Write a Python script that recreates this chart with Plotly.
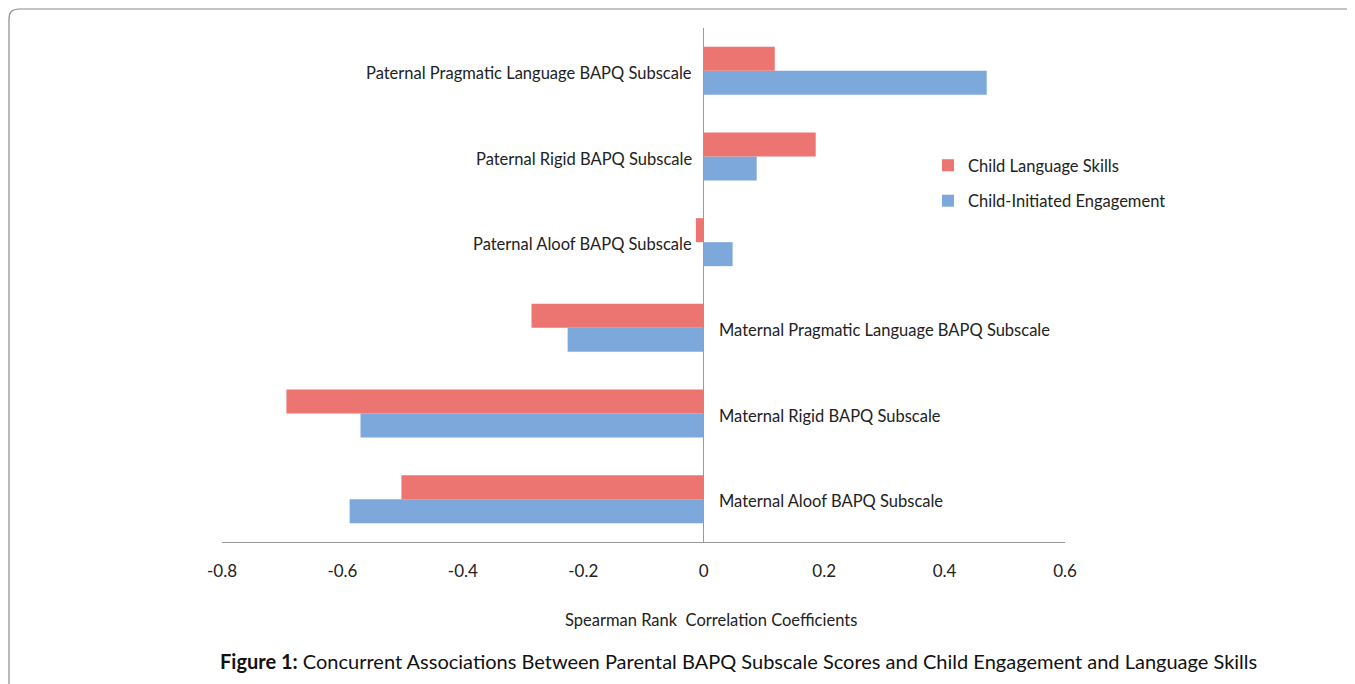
import plotly.graph_objects as go

categories = [
    "Maternal Aloof BAPQ Subscale",
    "Maternal Rigid BAPQ Subscale",
    "Maternal Pragmatic Language BAPQ Subscale",
    "Paternal Aloof BAPQ Subscale",
    "Paternal Rigid BAPQ Subscale",
    "Paternal Pragmatic Language BAPQ Subscale",
]
language_skills = [-0.502, -0.693, -0.286, -0.013, 0.186, 0.118]
initiated_engagement = [-0.588, -0.570, -0.226, 0.048, 0.088, 0.470]
tick_vals = [-0.8, -0.6, -0.4, -0.2, 0, 0.2, 0.4, 0.6]
tick_text = ["-0.8", "-0.6", "-0.4", "-0.2", "0", "0.2", "0.4", "0.6"]

OFF = 8  # page body margin
W, H = 1355, 684
ML, MR, MT, MB = 222 - OFF, 1355 - (1065 - OFF), 28 - OFF, 684 - (542 - OFF)
PW, PH = W - ML - MR, H - MT - MB

def px(x):  # page pixel -> paper x
    return (x - OFF - ML) / PW

def py(y):  # page pixel -> paper y
    return (H - MB - (y - OFF)) / PH

FONT = "Lato"
RED = "#EC7471"
BLUE = "#7DA8DC"

fig = go.Figure()
fig.add_trace(go.Bar(
    y=categories, x=initiated_engagement, orientation="h",
    name="Child-Initiated Engagement", marker=dict(color=BLUE, line=dict(width=0)),
    legendgroup="b", legendrank=2,
))
fig.add_trace(go.Bar(
    y=categories, x=language_skills, orientation="h",
    name="Child Language Skills", marker=dict(color=RED, line=dict(width=0)),
    legendgroup="a", legendrank=1,
))

annotations = []
for cat, a, b in zip(categories, language_skills, initiated_engagement):
    negative = (a + b) < 0
    annotations.append(dict(
        x=0, y=cat, xref="x", yref="y", text=cat, showarrow=False,
        xanchor="left" if negative else "right",
        xshift=13 if negative else -10, yshift=-2,
        font=dict(family=FONT, size=16.5, color="#222"),
    ))
annotations.append(dict(
    x=px(711), y=py(620), xref="paper", yref="paper",
    text="Spearman Rank  Correlation Coefficients", showarrow=False,
    xanchor="center", yanchor="middle", font=dict(family=FONT, size=16.5, color="#222"),
))
annotations.append(dict(
    x=px(738), y=py(661), xref="paper", yref="paper",
    text="<b>Figure 1:</b> Concurrent Associations Between Parental BAPQ Subscale Scores and Child Engagement and Language Skills",
    showarrow=False, xanchor="center", yanchor="middle",
    font=dict(family=FONT, size=20, color="#111"),
))

# rounded outer frame
x0, y0, x1, y1, r = 9, 9, 1362, 710, 10
path = (f"M {px(x0)} {py(y1)} L {px(x0)} {py(y0 + r)} Q {px(x0)} {py(y0)} {px(x0 + r)} {py(y0)} "
        f"L {px(x1)} {py(y0)} L {px(x1)} {py(y1)}")
shapes = [dict(type="path", xref="paper", yref="paper", path=path,
               line=dict(color="#8a8a8a", width=1.2), layer="below")]

fig.update_layout(
    width=W, height=H,
    margin=dict(l=ML, r=MR, t=MT, b=MB),
    paper_bgcolor="white", plot_bgcolor="white",
    barmode="group", bargap=0.44, bargroupgap=0,
    font=dict(family=FONT, size=16.5, color="#222"),
    xaxis=dict(range=[-0.8, 0.6], tickvals=tick_vals, ticktext=tick_text,
               showgrid=False, zeroline=True, zerolinecolor="#9a9a9a", zerolinewidth=1,
               showline=True, linecolor="#9a9a9a", linewidth=1, ticks="",
               tickfont=dict(family=FONT, size=17, color="#222"), ticklabelstandoff=14),
    yaxis=dict(showticklabels=False, showgrid=False, zeroline=False, showline=False,
               ticks="", categoryorder="array", categoryarray=categories),
    legend=dict(x=px(928), y=py(148), xanchor="left", yanchor="top",
                traceorder="grouped", tracegroupgap=11,
                font=dict(family=FONT, size=16.5, color="#222"), bgcolor="rgba(0,0,0,0)",
                itemwidth=30),
    annotations=annotations, shapes=shapes,
    showlegend=True,
)

fig.write_html("out.html")
